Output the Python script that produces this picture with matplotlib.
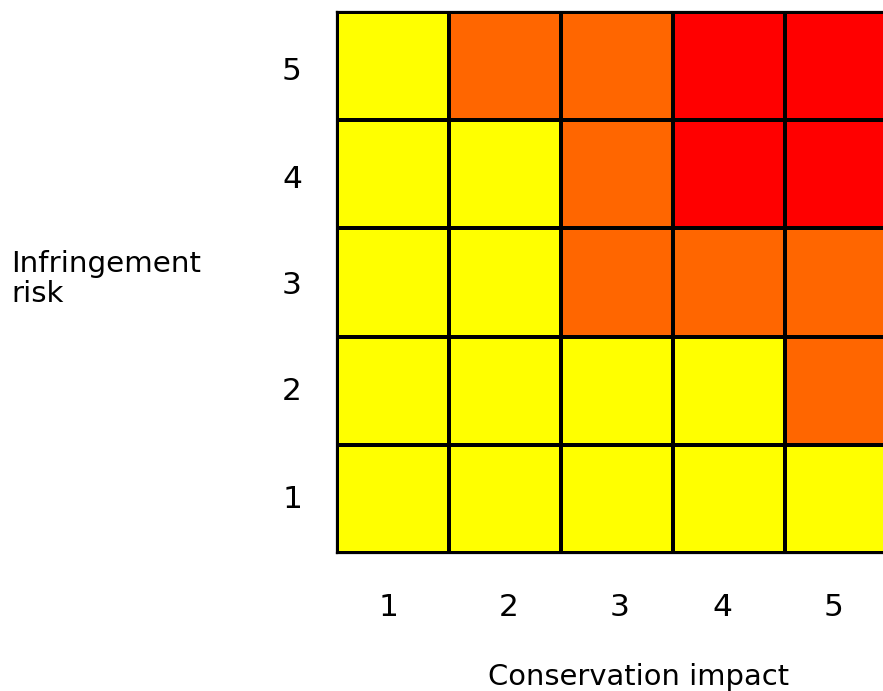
import matplotlib.pyplot as plt
import numpy as np
from matplotlib.colors import ListedColormap

# risk levels per cell: rows = infringement risk 1..5 (bottom to top), cols = conservation impact 1..5
impact_labels = ["1", "2", "3", "4", "5"]
risk_labels = ["1", "2", "3", "4", "5"]
levels = [
    [0, 0, 0, 0, 0],  # risk 1
    [0, 0, 0, 0, 1],  # risk 2
    [0, 0, 1, 1, 1],  # risk 3
    [0, 0, 1, 2, 2],  # risk 4
    [0, 1, 1, 2, 2],  # risk 5
]
level_colors = ["#FFFF00", "#FF6600", "#FF0000"]

W, H = 883, 691
fig = plt.figure(figsize=(W / 100, H / 100), dpi=100)

# grid runs off the right edge of the picture
left, right, top, bottom = 337, 897, 12, 553
ax = fig.add_axes([left / W, 1 - bottom / H, (right - left) / W, (bottom - top) / H])

cmap = ListedColormap(level_colors)
ax.pcolormesh(np.arange(6), np.arange(6), np.array(levels), cmap=cmap,
              vmin=-0.5, vmax=2.5, edgecolors="black", linewidth=1.6)
ax.set_xlim(0, 5)
ax.set_ylim(0, 5)
for s in ax.spines.values():
    s.set_linewidth(1.6)
ax.set_xticks([])
ax.set_yticks([])

fs = 22.5
x_pos = [388, 509, 620, 722, 834]
for xp, lab in zip(x_pos, impact_labels):
    fig.text(xp / W, 1 - 607 / H, lab, ha="center", va="center", fontsize=fs)
y_pos = [500, 392, 285, 179, 71]
for yp, lab in zip(y_pos, risk_labels):
    fig.text(292 / W, 1 - yp / H, lab, ha="center", va="center", fontsize=fs)

fig.text(11 / W, 1 - 279 / H, "Infringement\nrisk", ha="left", va="center",
         fontsize=fs * 0.94, linespacing=1.1)
fig.text(639 / W, 1 - 677 / H, "Conservation impact", ha="center", va="center",
         fontsize=fs * 0.93)

fig.savefig("out.png", dpi=100)
